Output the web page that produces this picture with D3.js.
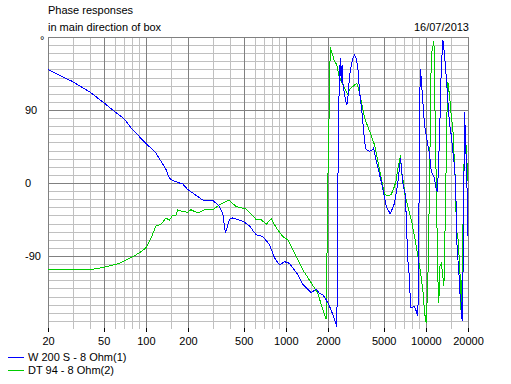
<!DOCTYPE html>
<html>
<head>
<meta charset="utf-8">
<script src="https://cdn.jsdelivr.net/npm/d3@7/dist/d3.min.js"></script>
<style>
body{margin:0;background:#fff}
text{font-family:"Liberation Sans",Arial,sans-serif;font-size:11px;fill:#000}
</style>
</head>
<body>
<svg id="chart" width="511" height="384"></svg>
<script>
// axis values
var xTicks=[20,50,100,200,500,1000,2000,5000,10000,20000]
var xMinor=[30,40,60,70,80,90,150,300,400,600,700,800,900,1500,3000,4000,6000,7000,8000,9000,15000]
var yTicks=[-90,0,90]
var seriesNames=["W 200 S - 8 Ohm(1)","DT 94 - 8 Ohm(2)"]
var seriesColors=["#0000ff","#00cc00"]

// [frequency Hz, phase deg]
var w200=[[20,140],[30,125],[40,112],[50,99],[58,90],[70,79],[80,66],[100,49],[118,37],[140,16],[147,6],[155,3],[174,0],[183,-1],
  [199,-8],[255,-21],[300,-21],[335,-29],[354,-37],[370,-62],[395,-45],[417,-43],[492,-47],[550,-53],[614,-64],[684,-66],
  [764,-76],[829,-92],[900,-101],[977,-97],[1061,-99],[1217,-113],[1321,-125],[1517,-135],[1647,-131],[1739,-136],[1836,-138],
  [1942,-144],[2050,-152],[2165,-162],[2262,-172],[2312,-177],[2330,-119],[2350,-10],[2390,100],[2446,154],[2486,125],[2520,145],
  [2552,123],[2650,105],[2726,96],[2788,109],[2850,133],[2930,144],[3008,154],[3094,158],[3182,154],[3266,142],[3358,113],
  [3454,96],[3546,76],[3648,51],[3750,41],[3960,39],[4140,41],[4230,43],[4422,27],[4614,14],[4800,2],[4928,-8],[5068,-18],
  [5212,-29],[5568,-38],[5976,-25],[6308,0],[6596,31],[6850,0],[7162,-16],[7244,-45],[7436,-95],[7648,-119],[7774,-154],
  [8304,-152],[8770,-164],[8914,-60],[9016,100],[9168,140],[9274,127],[9520,100],[9792,71],[10070,58],[10340,47],[10632,35],
  [10936,14],[11412,8],[11680,0],[11872,-8],[12070,-10],[12190,2],[12532,59],[12888,142],[13232,176],[13608,158],[13992,130],
  [14366,101],[14774,72],[15192,59],[15596,39],[16040,19],[16226,5],[16400,-12],[16496,-53],[16768,-86],[17130,-103],
  [17502,-135],[17910,-150],[18150,-170],[18400,-120],[18912,88],[19130,60],[19500,20],[19770,-20],[19968,-65]]

var dt94=[[20,-106],[22.8,-107],[39.5,-107],[50,-104],[64.7,-99],[80.5,-91],[90,-86],[100,-80],[109,-68],[118,-53],[128,-51],
  [139.5,-43],[147,-46],[155,-40],[164,-40],[169,-33],[174,-34],[183,-35],[199,-36],[210,-33],[235,-37],[262,-33],[300,-33],
  [335,-27],[391,-21],[441,-29],[520,-32],[614,-45],[666,-45],[723,-51],[785,-44],[853,-55],[950,-66],[1032,-70],[1185,-90],
  [1321,-107],[1517,-123],[1691,-136],[1836,-156],[1942,-168],[1960,-113],[1994,0],[2050,111],[2074,167],[2143,160],[2226,150],
  [2312,146],[2390,133],[2486,125],[2624,117],[2770,109],[2850,115],[3008,119],[3212,123],[3320,115],[3454,101],[3648,80],
  [3960,64],[4300,47],[4540,27],[4800,6],[5068,-14],[5352,-16],[5660,-14],[5976,-4],[6146,4],[6308,18],[6596,34],[6672,18],
  [6784,8],[6930,0],[7044,-12],[7436,-29],[7864,-45],[8304,-66],[8770,-90],[9168,-111],[9520,-132],[9792,-160],[10070,-173],
  [10340,-119],[10632,2],[10810,101],[10936,158],[11412,175],[11546,142],[11680,51],[11872,4],[12070,-78],[12190,-119],
  [12388,-148],[12532,-103],[12888,-99],[13232,-115],[13452,-127],[13608,-95],[13766,-37],[13992,31],[14200,100],[14366,124],
  [14774,107],[15192,82],[15596,66],[15800,45],[16040,20],[16308,0],[16496,-58],[16934,-66],[17502,-107],[17910,-168],
  [18390,-60],[18912,66],[19130,57],[19500,40],[19968,2]]

var svg=d3.select("#chart")
var x=d3.scaleLog().domain([20,20000]).range([48,468])
var y=d3.scaleLinear().domain([-180,180]).range([329,37])
var px=v=>Math.round(x(v))+0.5
var py=v=>Math.round(y(v))+0.5

var grid=svg.append("g").attr("shape-rendering","crispEdges")

//horizontal grid, no line at -180
var yMinor=d3.range(-170,180,10).filter(v=>yTicks.indexOf(v)<0)
grid.selectAll(".hmin").data(yMinor).enter().append("line").attr("class","hmin")
  .attr("x1",48).attr("x2",468).attr("y1",py).attr("y2",py)
  .attr("stroke","#c0c0c0")

//vertical grid
grid.selectAll(".vmin").data(xMinor).enter().append("line").attr("class","vmin")
  .attr("x1",px).attr("x2",px).attr("y1",37).attr("y2",329)
  .attr("stroke","#c0c0c0")

grid.selectAll(".hmaj").data(yTicks.concat([180])).enter().append("line").attr("class","hmaj")
  .attr("x1",48).attr("x2",469).attr("y1",py).attr("y2",py)
  .attr("stroke","#808080")
grid.selectAll(".vmaj").data(xTicks).enter().append("line").attr("class","vmaj")
  .attr("x1",px).attr("x2",px).attr("y1",37).attr("y2",329)
  .attr("stroke","#808080")
//small black ticks under axis
grid.selectAll(".xt").data(xTicks).enter().append("line").attr("class","xt")
  .attr("x1",px).attr("x2",px).attr("y1",328).attr("y2",332)
  .attr("stroke","#000")

//labels
svg.selectAll(".xl").data(xTicks).enter().append("text").attr("class","xl")
  .attr("x",d=>x(d)+0.5).attr("y",345).attr("text-anchor","middle").text(d=>d)
svg.selectAll(".yl").data(yTicks).enter().append("text").attr("class","yl")
  .attr("x",25).attr("y",d=>y(d)+4).text(d=>d)
svg.append("text").attr("x",40).attr("y",44).text("°")

svg.append("text").attr("x",48).attr("y",14).text("Phase responses")
svg.append("text").attr("x",48).attr("y",31).text("in main direction of box")
svg.append("text").attr("x",469).attr("y",31).attr("text-anchor","end").text("16/07/2013")

//curves
var line=d3.line().x(d=>x(d[0])).y(d=>y(d[1]))
;[w200,dt94].forEach((s,i)=>{
  svg.append("path").datum(s).attr("d",line)
    .attr("fill","none").attr("stroke",seriesColors[i]).attr("stroke-width",1)
    .attr("shape-rendering","crispEdges")
})
// draw blue on top like the reference
svg.select("path").raise()

//legend
var leg=svg.selectAll(".leg").data(seriesNames).enter().append("g").attr("class","leg")
  .attr("transform",(d,i)=>`translate(0 ${357+i*13})`)
leg.append("line").attr("x1",8).attr("x2",24).attr("y1",0.5).attr("y2",0.5)
  .attr("stroke",(d,i)=>seriesColors[i])
leg.append("text").attr("x",28).attr("y",4).text(d=>d)
</script>
</body>
</html>
